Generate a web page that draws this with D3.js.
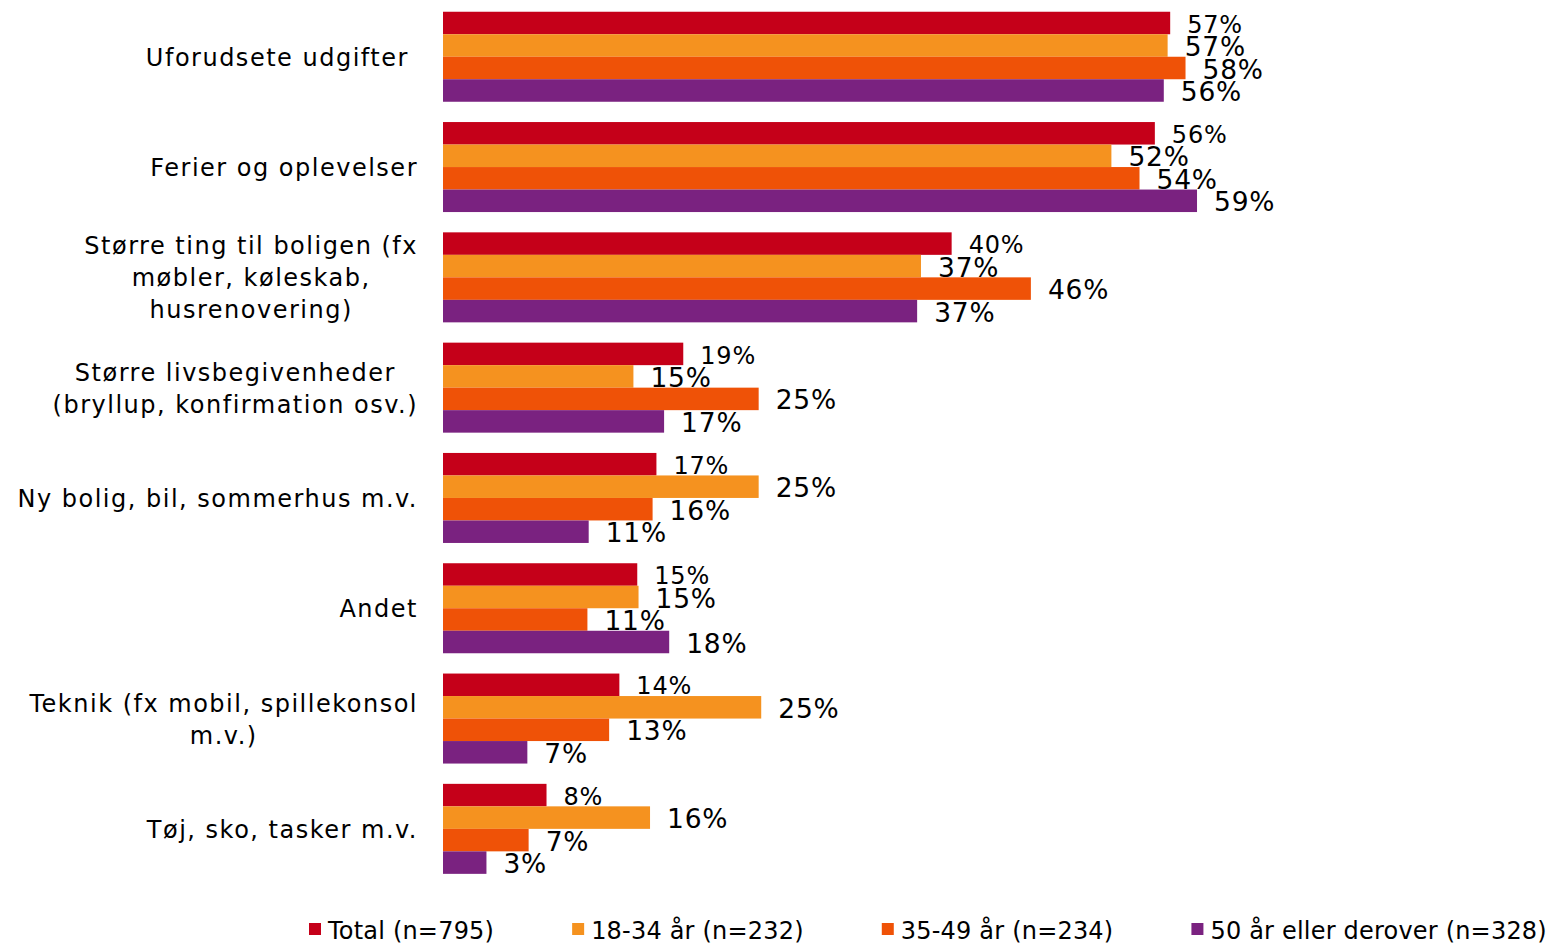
<!DOCTYPE html>
<html>
<head>
<meta charset="utf-8">
<script src="https://cdnjs.cloudflare.com/ajax/libs/d3/7.8.5/d3.min.js"></script>
<style>
  body { margin: 0; background: #fff; }
  svg { display: block; font-family: "DejaVu Sans", Verdana, sans-serif; }
</style>
</head>
<body>
<main></main>
<script>
// categories (label lines)
const categories = [
  ["Uforudsete udgifter\u00a0"],
  ["Ferier og oplevelser"],
  ["Større ting til boligen (fx", "møbler, køleskab,", "husrenovering)"],
  ["Større livsbegivenheder", "(bryllup, konfirmation osv.)"],
  ["Ny bolig, bil, sommerhus m.v."],
  ["Andet"],
  ["Teknik (fx mobil, spillekonsol", "m.v.)"],
  ["Tøj, sko, tasker m.v."]
];

const seriesNames = ["Total (n=795)", "18-34 år (n=232)", "35-49 år (n=234)", "50 år eller derover (n=328)"];
const seriesColors = ["#C50019", "#F5921F", "#EF5207", "#7A2280"];

// bar values and shown labels
const total   = [56.9, 55.7, 39.8, 18.8, 16.7, 15.2, 13.8, 8.1];
const age1834 = [56.7, 52.3, 37.4, 14.9, 24.7, 15.3, 24.9, 16.2];
const age3549 = [58.1, 54.5, 46.0, 24.7, 16.4, 11.3, 13.0, 6.7];
const age50   = [56.4, 59.0, 37.1, 17.3, 11.4, 17.7, 6.6, 3.4];

const totalLbl   = ["57%", "56%", "40%", "19%", "17%", "15%", "14%", "8%"];
const age1834Lbl = ["57%", "52%", "37%", "15%", "25%", "15%", "25%", "16%"];
const age3549Lbl = ["58%", "54%", "46%", "25%", "16%", "11%", "13%", "7%"];
const age50Lbl   = ["56%", "59%", "37%", "17%", "11%", "18%", "7%", "3%"];

const seriesValues = [total, age1834, age3549, age50];
const seriesLabels = [totalLbl, age1834Lbl, age3549Lbl, age50Lbl];

const width = 1548, height = 944;
const svg = d3.select("main").append("svg")
  .attr("width", width)
  .attr("height", height);

const x = d3.scaleLinear().domain([0, 60]).range([443, 443 + 60 * 12.78]);

const y = d3.scaleBand()
  .domain(d3.range(categories.length))
  .range([1.6, 884])
  .paddingInner(0.184)
  .paddingOuter(0.092);

const ySub = d3.scaleBand()
  .domain(d3.range(seriesNames.length))
  .range([0, y.bandwidth()]);

// bars
const groups = svg.selectAll("g.group")
  .data(categories)
  .enter().append("g")
  .attr("class", "group")
  .attr("transform", (d, i) => "translate(0," + y(i) + ")");

groups.each(function(d, i) {
  const g = d3.select(this);
  seriesValues.forEach((vals, s) => {
    g.append("rect")
      .attr("x", x(0))
      .attr("y", ySub(s))
      .attr("width", x(vals[i]) - x(0))
      .attr("height", ySub.bandwidth())
      .attr("fill", seriesColors[s]);
  });
  seriesValues.forEach((vals, s) => {
    const fs = s === 0 ? 24 : 26.5;
    g.append("text")
      .attr("x", x(vals[i]) + 17)
      .attr("y", ySub(s) + ySub.bandwidth() / 2 + fs * 0.36 + 1)
      .attr("font-size", fs)
      .attr("letter-spacing", 0.8)
      .attr("fill", "#000")
      .text(seriesLabels[s][i]);
  });
});

// category labels, lines centred, block right edge at 417
const lineH = 32;
groups.each(function(lines, i) {
  const g = d3.select(this);
  const t = g.append("text")
    .attr("font-size", 24)
    .attr("letter-spacing", 1.5)
    .attr("fill", "#000")
    .attr("text-anchor", "middle");
  const spans = lines.map((line, k) => t.append("tspan")
    .attr("y", y.bandwidth() / 2 + (k - (lines.length - 1) / 2) * lineH + 9)
    .text(line));
  const maxW = d3.max(spans, s => s.node().getComputedTextLength());
  spans.forEach(s => s.attr("x", 418 - maxW / 2));
});

// legend
let lx = 309;
seriesNames.forEach((name, s) => {
  svg.append("rect")
    .attr("x", lx)
    .attr("y", 923)
    .attr("width", 12)
    .attr("height", 12)
    .attr("fill", seriesColors[s]);
  const t = svg.append("text")
    .attr("x", lx + 19)
    .attr("y", 939)
    .attr("font-size", 24)
    .attr("letter-spacing", 0.2)
    .attr("fill", "#000")
    .text(name);
  lx += 19 + t.node().getComputedTextLength() + 78;
});
</script>
</body>
</html>
